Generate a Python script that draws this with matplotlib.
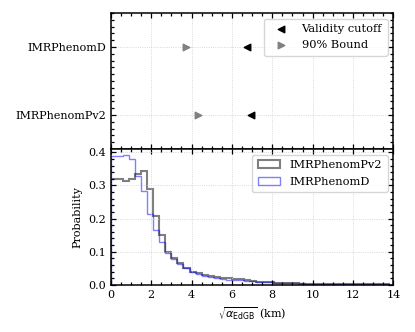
import numpy as np
import matplotlib
matplotlib.use("Agg")
import matplotlib.pyplot as plt
from matplotlib.ticker import MultipleLocator
from matplotlib.patches import Patch

plt.rcParams['font.family'] = ['DejaVu Serif']
plt.rcParams['mathtext.fontset'] = 'dejavusans'
plt.rcParams['font.size'] = 8

# Data
approximants = ["IMRPhenomPv2", "IMRPhenomD"]
validity_cutoff = [6.93, 6.73]
bound_90 = [4.31, 3.73]

bin_edges = np.round(np.arange(0, 14.01, 0.3), 2)
prob_pv2 = [0.320, 0.320, 0.315, 0.320, 0.335, 0.345, 0.290, 0.208, 0.150, 0.100,
            0.080, 0.065, 0.050, 0.040, 0.035, 0.030, 0.027, 0.024, 0.022, 0.020,
            0.019, 0.017, 0.014, 0.012, 0.010, 0.009, 0.008, 0.007, 0.006, 0.005,
            0.005, 0.004, 0.004, 0.004, 0.003, 0.003, 0.003, 0.003, 0.002, 0.002,
            0.002, 0.002, 0.002, 0.002, 0.002, 0.002]
prob_d = [0.390, 0.388, 0.393, 0.380, 0.330, 0.283, 0.215, 0.165, 0.130, 0.095,
          0.078, 0.062, 0.052, 0.040, 0.032, 0.028, 0.025, 0.022, 0.018, 0.016,
          0.015, 0.014, 0.012, 0.011, 0.010, 0.009, 0.008, 0.007, 0.006, 0.006,
          0.005, 0.005, 0.004, 0.004, 0.004, 0.003, 0.003, 0.003, 0.002, 0.002,
          0.002, 0.002, 0.002, 0.002, 0.002, 0.002]

fig = plt.figure(figsize=(4.15, 3.32), dpi=100)
ax1 = fig.add_axes([0.267, 0.551, 0.681, 0.410])
ax2 = fig.add_axes([0.267, 0.142, 0.681, 0.409], sharex=ax1)

ypos = np.arange(len(approximants))
ax1.scatter(validity_cutoff, ypos, marker='<', color='black', s=22, label='Validity cutoff', zorder=3)
ax1.scatter(bound_90, ypos, marker='>', color='grey', s=22, label='90% Bound', zorder=3)
ax1.set_yticks(ypos)
ax1.set_yticklabels(approximants)
ax1.set_ylim(-0.5, 1.5)
ax1.yaxis.set_minor_locator(MultipleLocator(0.1))
ax1.legend(loc='upper right', fancybox=True, framealpha=0.8, edgecolor='#cccccc',
           handletextpad=0.8, borderpad=0.5, labelspacing=0.5, fontsize=8.2)
plt.setp(ax1.get_xticklabels(), visible=False)

ax2.stairs(prob_pv2, bin_edges, color='black', alpha=0.5, linewidth=1.5)
ax2.stairs(prob_d, bin_edges, color='blue', alpha=0.5, linewidth=1.0)
handles = [Patch(facecolor='none', edgecolor=(0, 0, 0, 0.5), linewidth=1.5),
           Patch(facecolor='none', edgecolor=(0, 0, 1, 0.5), linewidth=1.0)]
ax2.legend(handles, ["IMRPhenomPv2", "IMRPhenomD"], loc='upper right', fancybox=True,
           framealpha=0.8, edgecolor='#cccccc', borderpad=0.5, labelspacing=0.55,
           fontsize=8.2)
ax2.set_xlim(0, 14)
ax2.set_ylim(0, 0.41)
ax2.set_xticks(np.arange(0, 15, 2))
ax2.xaxis.set_minor_locator(MultipleLocator(0.5))
ax2.yaxis.set_major_locator(MultipleLocator(0.1))
ax2.yaxis.set_minor_locator(MultipleLocator(0.02))
ax2.set_ylabel('Probability')
ax2.set_xlabel(r'$\sqrt{\alpha_{\mathrm{EdGB}}}$ (km)')

for ax in (ax1, ax2):
    ax.grid(True, which='major', color='#cccccc', linestyle=':', linewidth=0.6)
    ax.tick_params(which='both', direction='in', top=True, right=True, width=0.9)
    ax.tick_params(which='major', length=3.5)
    ax.tick_params(which='minor', length=2)
    for s in ax.spines.values():
        s.set_linewidth(1.1)

fig.savefig('out.png', dpi=100)
